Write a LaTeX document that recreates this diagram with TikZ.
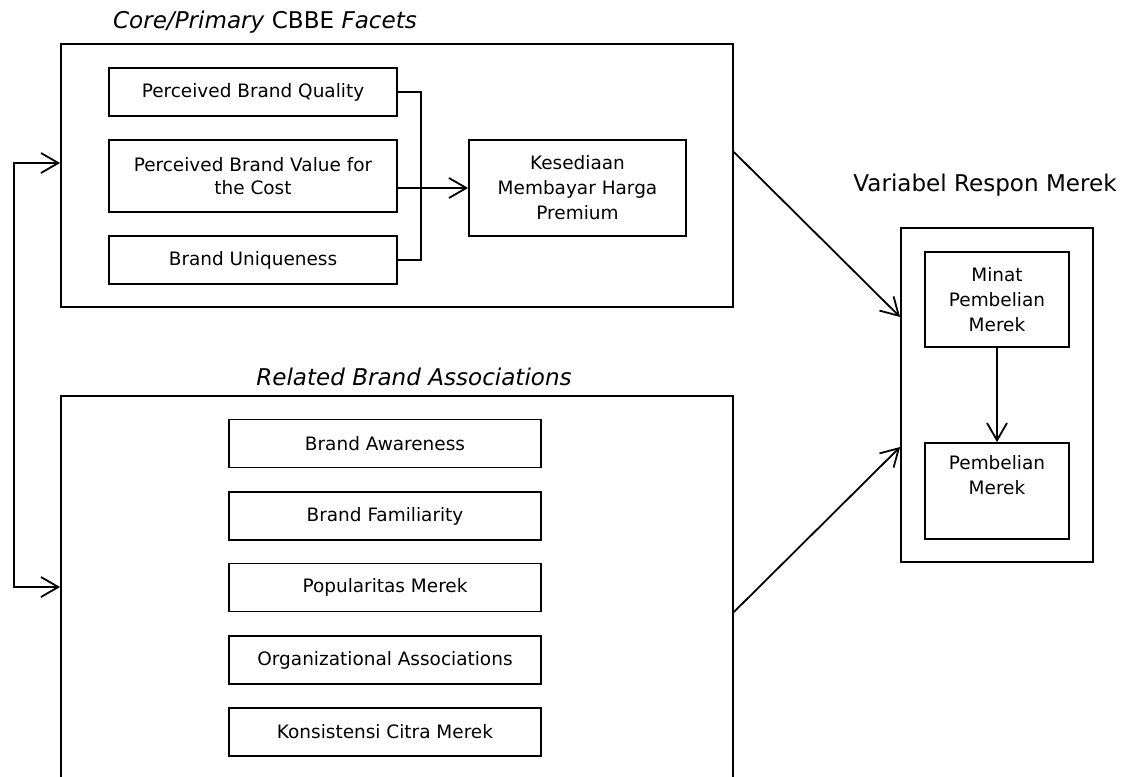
\documentclass[tikz,border=0pt]{standalone}
\usepackage{fontspec}
\setmainfont{DejaVu Sans}
\usetikzlibrary{arrows.meta}
\newcommand{\bodyfont}{\fontsize{13.85}{18.75}\selectfont}
\newcommand{\headfont}{\fontsize{17.3}{21}\selectfont}
\tikzset{
  sz/.style 2 args={minimum width=#1*0.75pt, minimum height=#2*0.75pt},
  frame/.style={draw, inner sep=0pt},
  item/.style={draw, inner sep=0pt, align=center, font=\bodyfont},
  heading/.style={inner sep=0pt, font=\headfont},
  arr/.style={-{Straight Barb[length=13pt,width=15pt]}},
  darr/.style={{Straight Barb[length=13pt,width=15pt]}-{Straight Barb[length=13pt,width=15pt]}},
}
\begin{document}
\begin{tikzpicture}[x=0.75pt, y=-0.75pt, line width=1.35pt]
\useasboundingbox (0,0) rectangle (1132,776);
\clip (0,0) rectangle (1132,776);

% core facets group
\node[frame, sz={672}{263}] (core) at (397,175.5) {};
\node[heading] (coret) at (265,22) {\textit{Core/Primary} CBBE \textit{Facets}};
\node[item, sz={288}{48}] (pbq) at (253,92) {Perceived Brand Quality};
\node[item, sz={288}{72}, font=\fontsize{13.85}{17}\selectfont] (pbv) at (253,176) {Perceived Brand Value for\\the Cost};
\node[item, sz={288}{48}] (bu) at (253,260) {Brand Uniqueness};
\node[item, sz={217}{96}] (kes) at (577.5,188) {Kesediaan\\Membayar Harga\\Premium};

\coordinate (bus) at (421,176);
\draw (pbq.east) -| (bus) |- (bu.east);
\draw[arr] (pbv.east |- kes.west) -- (kes.west);

% related associations group (open at the foot)
\node[frame, sz={672}{440}] (rel) at (397,616) {};
\node[heading] (relt) at (414,377) {\textit{Related Brand Associations}};
\node[item, sz={312}{48}] (ba) at (385,443.5) {Brand Awareness};
\node[item, sz={312}{48}] (bf) at (385,516) {Brand Familiarity};
\node[item, sz={312}{48}] (pm) at (385,587.5) {Popularitas Merek};
\node[item, sz={312}{48}] (oa) at (385,660) {Organizational Associations};
\node[item, sz={312}{48}] (kc) at (385,732) {Konsistensi Citra Merek};

% response variables
\node[frame, sz={192}{334}] (resp) at (997,395) {};
\node[heading] (respt) at (985,185) {Variabel Respon Merek};
\node[item, sz={144}{95}] (minat) at (997,299.5) {Minat\\Pembelian\\Merek};
\node[item, sz={144}{96}] (beli) at (997,491) {Pembelian\\Merek\\\strut};
\draw[arr] (minat) -- (beli);

% links between the groups
\coordinate (lt) at (14,163);
\coordinate (lb) at (14,587);
\draw[darr] (core.west |- lt) -- (lt) -- (lb) -- (rel.west |- lb);
\draw[arr] (core.east |- 0,152) -- (resp.west |- 0,317);
\draw[arr] (rel.east |- 0,612) -- (resp.west |- 0,447);
\end{tikzpicture}
\end{document}
